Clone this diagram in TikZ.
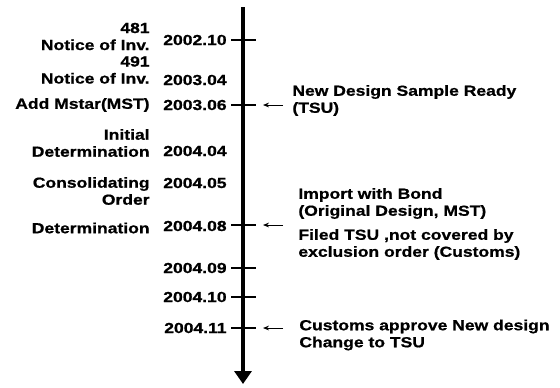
\documentclass[tikz,border=0pt]{standalone}
\usepackage{fontspec}
\newfontfamily\lab{Liberation Sans}[FakeStretch=1.2,BoldFeatures={FakeBold=0.8,FakeStretch=1.2}]
\usetikzlibrary{arrows.meta}
\begin{document}
\begin{tikzpicture}[x=0.5pt,y=-0.5pt,
  txt/.style={inner sep=0pt,font=\lab\bfseries\fontsize{7.3}{8.5}\selectfont},
  lft/.style={txt,anchor=east,align=right},
  rgt/.style={txt,anchor=west,align=left},
  tick/.style={line width=0.8pt},
  ptr/.style={line width=0.5pt,-{Stealth[length=3pt,width=2.4pt]}}]
\useasboundingbox (0,0) rectangle (560,387);
% axis
\coordinate (top) at (243,7);
\coordinate (bot) at (243,384);
\draw[line width=2pt,-{Triangle[width=8.5pt,length=6.5pt]}] (top) -- (bot);
% ticks
\foreach \n/\y in {t1/40,t2/105,t3/225,t4/268,t5/297,t6/328}{
  \coordinate (\n a) at (231,\y);
  \coordinate (\n b) at (256,\y);
  \draw[tick] (\n a) -- (\n b);
}
% dates
\node[lft] (d1) at (227,40) {2002.10};
\node[lft] (d2) at (227,80) {2003.04};
\node[lft] (d3) at (227,105) {2003.06};
\node[lft] (d4) at (227,151) {2004.04};
\node[lft] (d5) at (227,183) {2004.05};
\node[lft] (d6) at (227,226) {2004.08};
\node[lft] (d7) at (227,268) {2004.09};
\node[lft] (d8) at (227,297) {2004.10};
\node[lft] (d9) at (227,328) {2004.11};
% left events
\node[lft] (e1) at (150,36.5) {481\\Notice of Inv.};
\node[lft] (e2) at (150,70) {491\\Notice of Inv.};
\node[lft] (e3) at (150,105) {Add Mstar(MST)};
\node[lft] (e4) at (150,143) {Initial\\Determination};
\node[lft] (e5) at (150,191) {Consolidating\\Order};
\node[lft] (e6) at (150,228) {Determination};
% right events
\node[rgt] (r1) at (292,100.5) {New Design Sample Ready\\(TSU)};
\node[rgt] (r2) at (298,203.5) {Import with Bond\\(Original Design, MST)};
\node[rgt] (r3) at (298,244.5) {Filed TSU ,not covered by\\exclusion order (Customs)};
\node[rgt] (r4) at (299,335) {Customs approve New design\\Change to TSU};
% pointers
\foreach \n/\y in {p1/105,p2/225,p3/328}{
  \coordinate (\n s) at (283,\y);
  \coordinate (\n e) at (263,\y);
  \draw[ptr] (\n s) -- (\n e);
}
\end{tikzpicture}
\end{document}
